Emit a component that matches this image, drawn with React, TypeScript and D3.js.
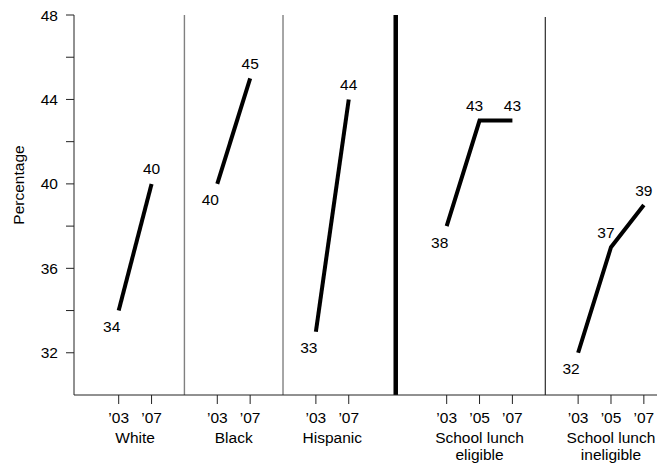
import React from "react";
import * as d3 from "d3";

// ---- data ----
const groupNames = ["White", "Black", "Hispanic", "School lunch\neligible", "School lunch\nineligible"];
const whiteYears = ["’03", "’07"];
const whiteValues = [34, 40];
const blackYears = ["’03", "’07"];
const blackValues = [40, 45];
const hispanicYears = ["’03", "’07"];
const hispanicValues = [33, 44];
const eligibleYears = ["’03", "’05", "’07"];
const eligibleValues = [38, 43, 43];
const ineligibleYears = ["’03", "’05", "’07"];
const ineligibleValues = [32, 37, 39];
const yTicks = [32, 34, 36, 38, 40, 42, 44, 46, 48];
const yLabels = [32, 36, 40, 44, 48];
const dividerKinds = ["grey", "grey", "thick", "thin"];

const groupYears = [whiteYears, blackYears, hispanicYears, eligibleYears, ineligibleYears];
const groupValues = [whiteValues, blackValues, hispanicValues, eligibleValues, ineligibleValues];

const W = 664, H = 469;
const left = 74, right = 657, top = 15, bottom = 395;
const FONT = "'Liberation Sans', Arial, Helvetica, sans-serif";
const FS = 15.5;

export default function App() {
  // layout in slot units
  const startPad = 1.36;
  const gapBefore: Record<string, number> = { grey: 1, thin: 1, thick: 1.43 };
  const gapAfter: Record<string, number> = { grey: 1, thin: 1, thick: 1.55 };
  let cursor = startPad;
  const slots: number[][] = [];
  const dividers: { pos: number; kind: string }[] = [];
  groupYears.forEach((yrs, gi) => {
    const s = yrs.map((_, i) => cursor + i);
    slots.push(s);
    const last = s[s.length - 1];
    if (gi < dividerKinds.length) {
      const kind = dividerKinds[gi];
      const dpos = last + gapBefore[kind];
      dividers.push({ pos: dpos, kind });
      cursor = dpos + gapAfter[kind];
    } else {
      cursor = last + 0.4;
    }
  });
  const total = cursor;

  const x = d3.scaleLinear().domain([0, total]).range([left, right]);
  const y = d3.scaleLinear().domain([30, 48]).range([bottom, top]);
  const line = d3
    .line<[number, number]>()
    .x((d) => x(d[0]))
    .y((d) => y(d[1]));

  return (
    <svg
      width={W}
      height={H}
      style={{ position: "absolute", left: 0, top: 0, background: "#fff" }}
      fontFamily={FONT}
    >
      {/* dividers */}
      {dividers.map((d, i) => (
        <line
          key={"div" + i}
          x1={x(d.pos)}
          x2={x(d.pos)}
          y1={d.kind === "thin" ? top + 2 : top}
          y2={bottom}
          stroke={d.kind === "grey" ? "#808080" : "#000"}
          strokeWidth={d.kind === "thick" ? 4.5 : d.kind === "grey" ? 1.4 : 1}
        />
      ))}

      {/* axes */}
      <line x1={left} x2={left} y1={top} y2={bottom} stroke="#222" strokeWidth={1} />
      <line x1={left} x2={right} y1={bottom} y2={bottom} stroke="#222" strokeWidth={1} />
      {yTicks.map((t) => (
        <line key={"yt" + t} x1={left - 8} x2={left} y1={y(t)} y2={y(t)} stroke="#222" strokeWidth={1} />
      ))}
      {yLabels.map((t) => (
        <text key={"yl" + t} x={58} y={y(t)} textAnchor="end" dominantBaseline="central" fontSize={FS} fill="#000">
          {t}
        </text>
      ))}
      <text
        transform={`translate(18,${(top + bottom) / 2 - 20}) rotate(-90)`}
        textAnchor="middle"
        dominantBaseline="central"
        fontSize={FS}
        fill="#000"
      >
        Percentage
      </text>

      {/* x ticks and labels */}
      {groupYears.map((yrs, gi) =>
        yrs.map((yr, i) => (
          <g key={`xt${gi}-${i}`}>
            <line x1={x(slots[gi][i])} x2={x(slots[gi][i])} y1={bottom} y2={bottom + 9} stroke="#222" strokeWidth={1} />
            <text x={x(slots[gi][i])} y={417} textAnchor="middle" dominantBaseline="central" fontSize={FS} fill="#000">
              {yr}
            </text>
          </g>
        ))
      )}
      {groupNames.map((name, gi) => {
        const s = slots[gi];
        const cx = (x(s[0]) + x(s[s.length - 1])) / 2;
        const lines = name.split("\n");
        return (
          <text key={"gn" + gi} x={cx} y={437} textAnchor="middle" fontSize={FS} fill="#000" dominantBaseline="central">
            {lines.map((l, li) => (
              <tspan key={li} x={cx} dy={li === 0 ? 0 : 17}>
                {l}
              </tspan>
            ))}
          </text>
        );
      })}

      {/* data lines */}
      {groupValues.map((vals, gi) => {
        const pts: [number, number][] = vals.map((v, i) => [slots[gi][i], v]);
        return (
          <g key={"ln" + gi}>
            <path d={line(pts) || ""} fill="none" stroke="#000" strokeWidth={4} strokeLinejoin="miter" strokeLinecap="butt" />
            {vals.map((v, i) => {
              const px = x(slots[gi][i]);
              const py = y(v);
              const first = i === 0;
              const mid = i > 0 && i < vals.length - 1;
              const dx = first ? -7 : mid ? -5 : 0;
              const dy = first ? 16 : -15;
              return (
                <text key={i} x={px + dx} y={py + dy} textAnchor="middle" dominantBaseline="central" fontSize={FS} fill="#000">
                  {v}
                </text>
              );
            })}
          </g>
        );
      })}
    </svg>
  );
}
